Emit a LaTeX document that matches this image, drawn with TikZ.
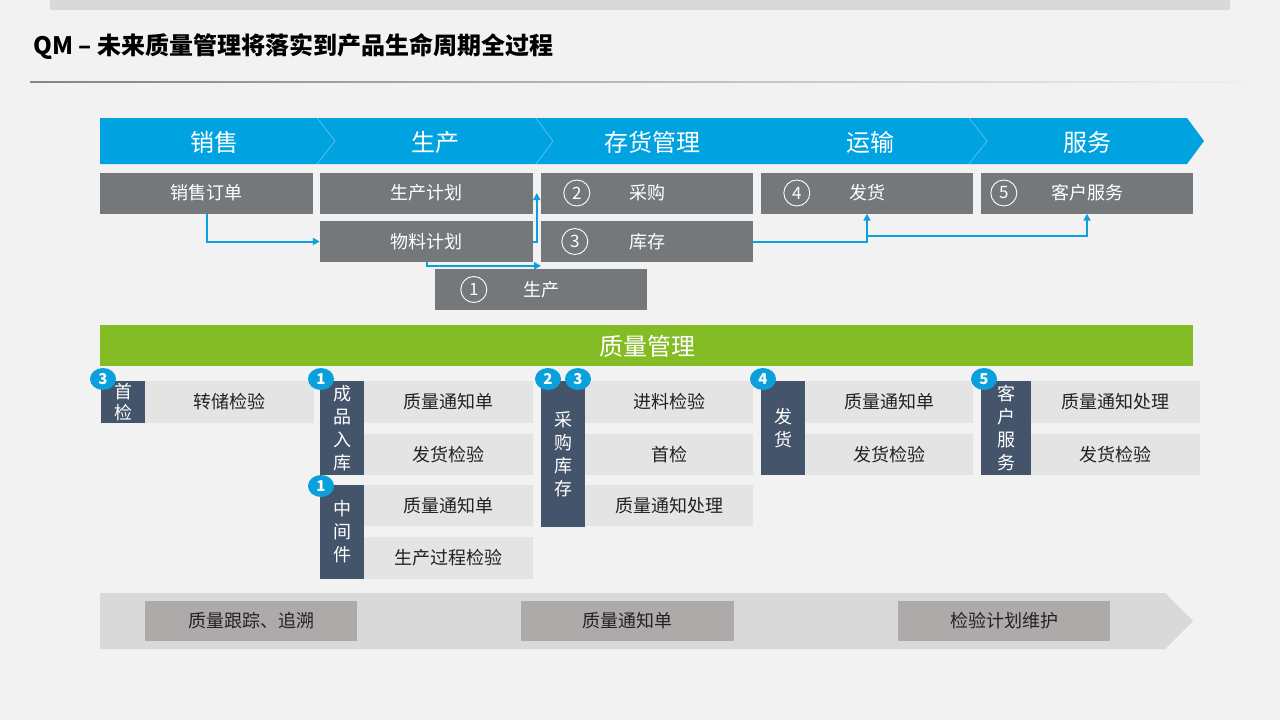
\documentclass[tikz,border=0pt]{standalone}
\usepackage{fontspec}
\setmainfont{Noto Sans CJK SC}
\usetikzlibrary{arrows.meta,calc,shapes.geometric}
\definecolor{bg}{HTML}{F2F2F2}
\definecolor{topbar}{HTML}{D9D9D9}
\definecolor{chev}{HTML}{00A3E0}
\definecolor{chevline}{HTML}{63C7EF}
\definecolor{boxgray}{HTML}{75787B}
\definecolor{connblue}{HTML}{0BA0DF}
\definecolor{qgreen}{HTML}{84BC26}
\definecolor{darkslate}{HTML}{44546A}
\definecolor{lightbox}{HTML}{E4E4E4}
\definecolor{txt}{HTML}{222222}
\definecolor{band}{HTML}{D9D9D9}
\definecolor{bandbox}{HTML}{AEAAAA}
\definecolor{badgeblue}{HTML}{0AA0DC}
\definecolor{rulegray}{HTML}{858585}
\newcommand\fs[2]{\fontsize{#1}{#2}\selectfont}
\begin{document}
\begin{tikzpicture}[x=1pt,y=-1pt,
  gbox/.style={fill=boxgray,text=white,inner sep=0,minimum height=41pt,font=\fs{18}{22}},
  lbox/.style={fill=lightbox,text=txt,inner sep=0,minimum width=169pt,font=\fs{18}{22}},
  dbox/.style={fill=darkslate,text=white,inner sep=0,minimum width=44pt,align=center,font=\fs{18}{23}},
  badge/.style={ellipse,fill=badgeblue,text=white,inner sep=0,minimum width=26pt,minimum height=22pt,font=\bfseries\fs{15}{18}},
  cnum/.style={circle,draw=white,line width=0.9pt,text=white,inner sep=0,minimum size=26pt,font=\fs{17}{20}},
  chevlabel/.style={text=white,inner sep=0,font=\fs{24}{28}},
  link/.style={draw=connblue,line width=2pt,-{Triangle[length=7pt,width=7pt]}},
  bbox/.style={fill=bandbox,text=txt,inner sep=0,minimum width=212pt,minimum height=40pt,font=\fs{18}{22}}]
\useasboundingbox (0,0) rectangle (1280,720);
\fill[bg] (0,0) rectangle (1280,720);
% top bar
\fill[topbar] (50,0) rectangle (1230,10);
% title
\node[anchor=west,inner sep=0,text=black,font=\bfseries\fs{24}{28}] (title) at (33,47) {QM – 未来质量管理将落实到产品生命周期全过程};
\shade[left color=rulegray,right color=bg] (30,81.5) rectangle (1270,82.5);
% chevron band
\fill[chev] (100,118) -- (1187,118) -- (1204,141) -- (1187,164) -- (100,164) -- cycle;
\draw[chevline,line width=0.6pt] (317,118) -- (335,141) -- (317,164);
\draw[chevline,line width=0.6pt] (536,118) -- (553,141) -- (536,164);
\draw[chevline,line width=0.6pt] (969,118) -- (987,141) -- (969,164);
\node[chevlabel] (c1) at (214,142) {销售};
\node[chevlabel] (c2) at (435,142) {生产};
\node[chevlabel] (c3) at (652,142) {存货管理};
\node[chevlabel] (c4) at (870,142) {运输};
\node[chevlabel] (c5) at (1087,142) {服务};
% process boxes
\node[gbox,minimum width=213pt] (so) at (206.5,193) {销售订单};
\node[gbox,minimum width=213pt] (pp) at (426.5,193) {生产计划};
\node[gbox,minimum width=212pt] (cg) at (647,193) {采购};
\node[gbox,minimum width=212pt] (fh) at (867,193) {发货};
\node[gbox,minimum width=212pt] (kf) at (1087,193) {客户服务};
\node[gbox,minimum width=213pt] (wl) at (426.5,241.5) {物料计划};
\node[gbox,minimum width=212pt] (kc) at (647,241.5) {库存};
\node[gbox,minimum width=212pt] (sc) at (541,289.5) {生产};
\node[cnum] (n2) at ([xshift=36pt]cg.west) {2};
\node[cnum] (n3) at ([xshift=34pt]kc.west) {3};
\node[cnum] (n1) at ([xshift=39pt]sc.west) {1};
\node[cnum] (n4) at ([xshift=36pt]fh.west) {4};
\node[cnum] (n5) at ([xshift=23pt]kf.west) {5};
% connectors
\draw[link] (so.south) |- (wl.west);
\draw[link] (wl.east) -| ($(cg.west)+(-4,0)$);
\draw[link] (wl.south) |- ($(sc.north)+(0,-3)$);
\draw[link] (kc.east) -| (fh.south);
\coordinate (br) at (868,236);
\draw[link] (br) -| (kf.south);
% quality bar
\fill[qgreen] (100,325) rectangle (1193,366);
\node[text=white,inner sep=0,font=\fs{24}{28}] (qm) at (647,346) {质量管理};
% group A
\node[dbox,minimum height=42pt,font=\fs{18}{21}] (dA) at (123,402) {首\\检};
\node[lbox,minimum height=42pt] (A1) at (229.5,402) {转储检验};
% group B
\node[dbox,minimum height=94pt] (dB) at (342,428) {成\\品\\入\\库};
\node[lbox,minimum height=42pt] (B1) at (448.5,402) {质量通知单};
\node[lbox,minimum height=41pt] (B2) at (448.5,454.5) {发货检验};
% group C
\node[dbox,minimum height=94pt] (dC) at (342,532) {中\\间\\件};
\node[lbox,minimum height=41pt] (C1) at (448.5,505.5) {质量通知单};
\node[lbox,minimum height=42pt] (C2) at (448.5,558) {生产过程检验};
% group D
\node[dbox,minimum height=146pt] (dD) at (563,454) {采\\购\\库\\存};
\node[lbox,minimum width=168pt,minimum height=42pt] (D1) at (669,402) {进料检验};
\node[lbox,minimum width=168pt,minimum height=41pt] (D2) at (669,454.5) {首检};
\node[lbox,minimum width=168pt,minimum height=41pt] (D3) at (669,505.5) {质量通知处理};
% group E
\node[dbox,minimum height=94pt] (dE) at (783,428) {发\\货};
\node[lbox,minimum width=168pt,minimum height=42pt] (E1) at (889,402) {质量通知单};
\node[lbox,minimum width=168pt,minimum height=41pt] (E2) at (889,454.5) {发货检验};
% group F
\node[dbox,minimum width=50pt,minimum height=94pt] (dF) at (1006,428) {客\\户\\服\\务};
\node[lbox,minimum height=42pt] (F1) at (1115.5,402) {质量通知处理};
\node[lbox,minimum height=41pt] (F2) at (1115.5,454.5) {发货检验};
% badges
\node[badge] (bA) at (103,379) {3};
\node[badge] (bB) at (321,379) {1};
\node[badge] (bC) at (321,486) {1};
\node[badge] (bD2) at (548,379) {2};
\node[badge] (bD3) at (578,379) {3};
\node[badge] (bE) at (763,379) {4};
\node[badge] (bF) at (984,379) {5};
% bottom band
\fill[band] (100,593) -- (1165,593) -- (1193,621) -- (1165,649) -- (100,649) -- cycle;
\node[bbox] (t1) at (251,621) {质量跟踪、追溯};
\node[bbox,minimum width=213pt] (t2) at (627.5,621) {质量通知单};
\node[bbox] (t3) at (1004,621) {检验计划维护};
\end{tikzpicture}
\end{document}
